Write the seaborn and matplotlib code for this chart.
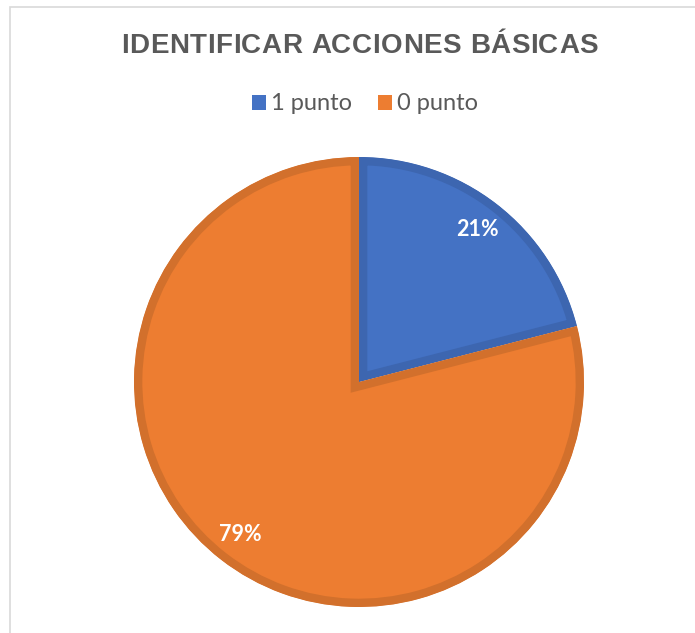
import matplotlib
matplotlib.use("Agg")
import matplotlib.pyplot as plt
from matplotlib.patches import Patch, Rectangle
from matplotlib.font_manager import FontProperties
import seaborn as sns

# datos del grafico
etiquetas = ["1 punto", "0 punto"]
valores = [21, 79]
colores = ["#4472C4", "#ED7D31"]
bordes = ["#3D66B0", "#D2702C"]
titulo = "IDENTIFICAR ACCIONES BÁSICAS"

sns.set_theme(style="white")
plt.rcParams['font.family'] = ['Liberation Sans', 'DejaVu Sans']

W, H = 695, 633
fig = plt.figure(figsize=(W / 100, H / 100), dpi=100)
fig.patch.set_facecolor("white")

# borde gris del area del grafico (recortado)
fig.add_artist(Rectangle((10 / W, -0.1), 1.2, 1.1 - 7 / H, transform=fig.transFigure,
                         fill=False, edgecolor="#D9D9D9", linewidth=1.2))

cx, cy, r = 359, 382, 225
ax = fig.add_axes([(cx - r) / W, (H - cy - r) / H, 2 * r / W, 2 * r / H])
wedges, texts, autotexts = ax.pie(valores, colors=colores, startangle=90, counterclock=False,
                                  autopct="%1.0f%%", pctdistance=0.86,
                                  textprops=dict(color="white", fontsize=15.5, fontweight="bold",
                                                 family="Lato"))
# borde interior mas oscuro en cada porcion
for w, bc in zip(wedges, bordes):
    w.set_edgecolor(bc)
    w.set_linewidth(12)
    w.set_clip_on(True)
    w.set_clip_path(w)
ax.set_xlim(-1, 1)
ax.set_ylim(-1, 1)
ax.axis("off")

# titulo con espaciado entre letras
fp = FontProperties(family="Liberation Sans", weight="bold", size=20)
rend = fig.canvas.get_renderer()
anchos = [rend.get_text_width_height_descent(ch, fp, ismath=False)[0] for ch in titulo]
objetivo = 477
esp = (objetivo - sum(anchos)) / (len(titulo) - 1)
x = 359.5 - objetivo / 2
for ch, a in zip(titulo, anchos):
    fig.text(x / W, 1 - 46 / H, ch, ha="left", va="center", fontproperties=fp, color="#595959")
    x += a + esp

handles = [Patch(facecolor=c, edgecolor="none") for c in colores]
fig.legend(handles, etiquetas, loc="center", bbox_to_anchor=(365 / W, 1 - 104 / H), ncol=2,
           frameon=False, prop=dict(family="Lato", size=17), labelcolor="#595959",
           handlelength=0.6, handleheight=0.6, handletextpad=0.2, columnspacing=1.1)

fig.savefig("out.png", dpi=100, facecolor="white")
